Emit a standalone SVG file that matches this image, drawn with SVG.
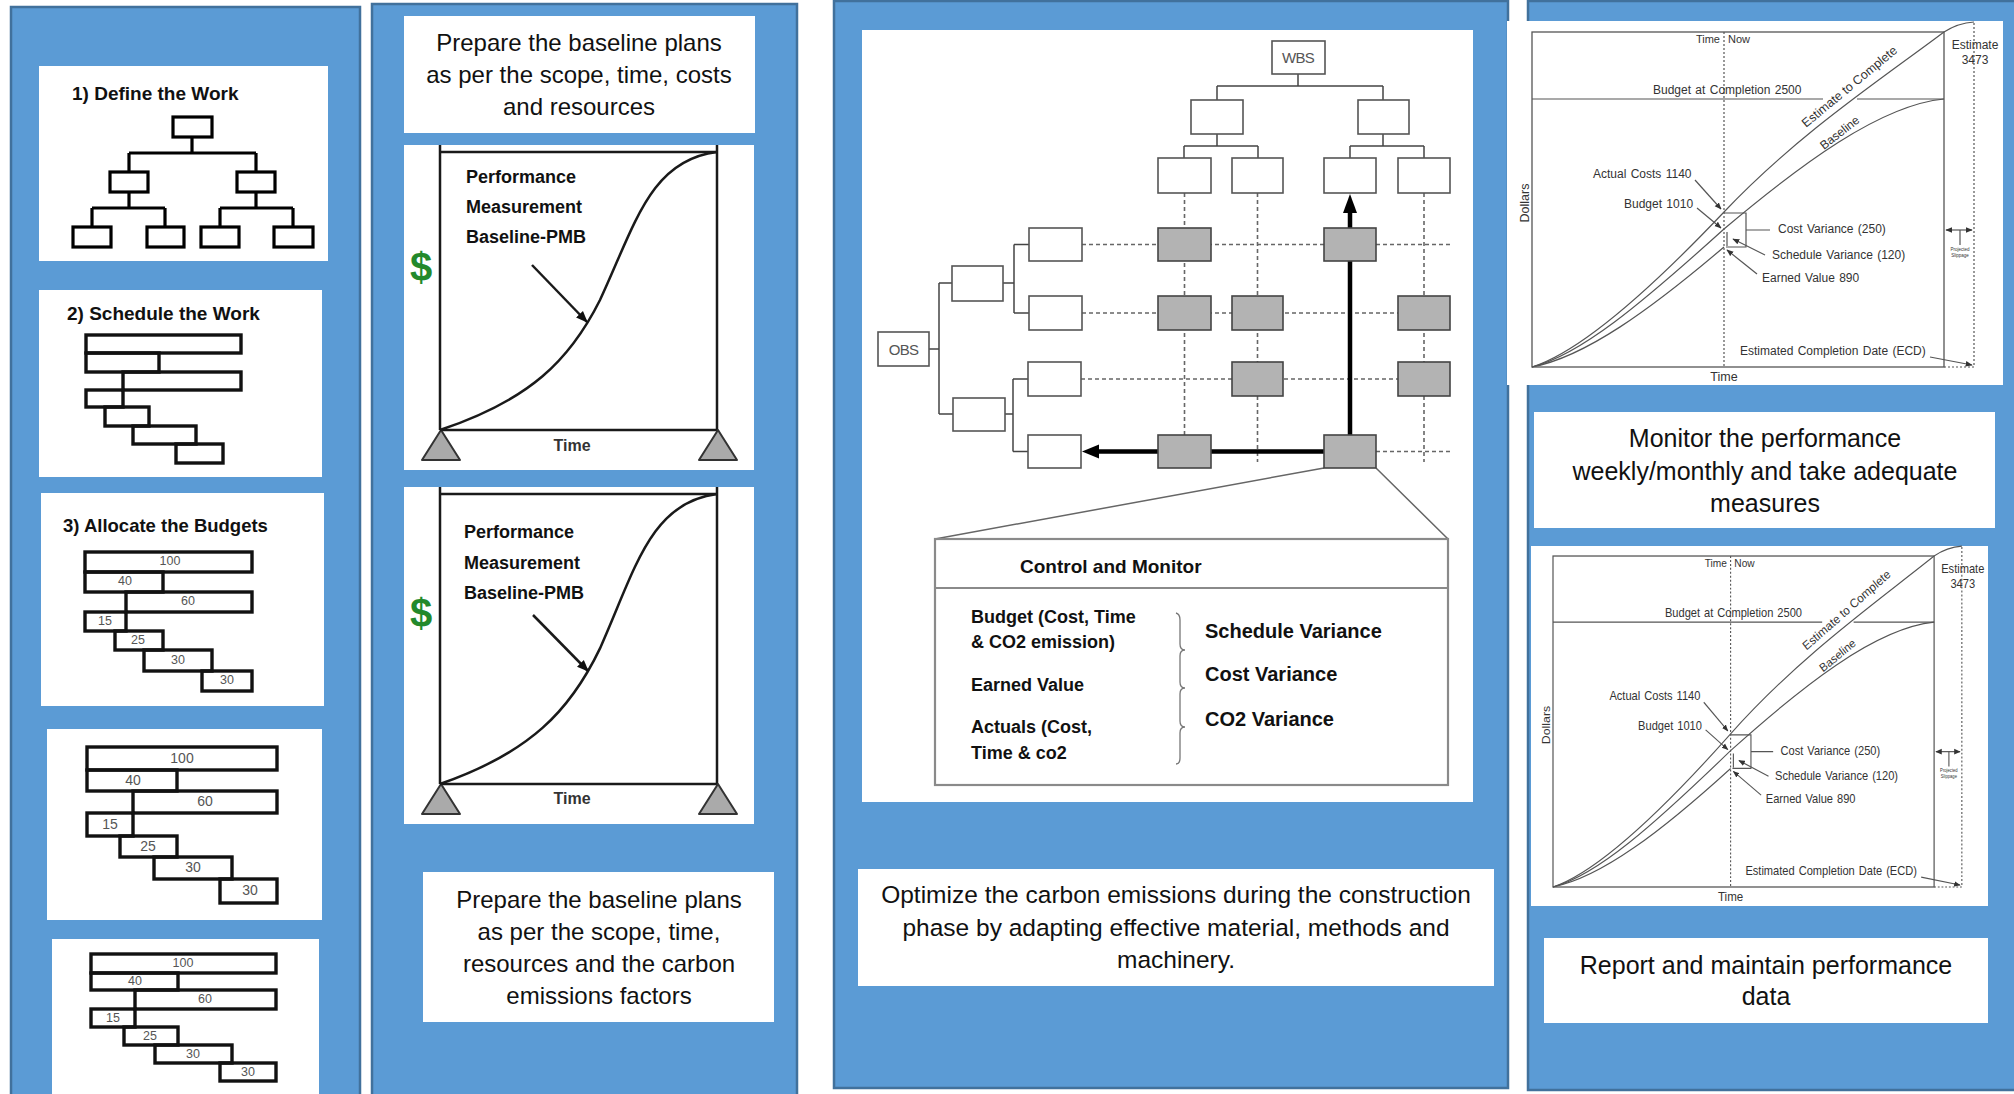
<svg xmlns="http://www.w3.org/2000/svg" width="2014" height="1094" viewBox="0 0 2014 1094">
<defs>
<style>
.panel{fill:#5b9bd5;stroke:#41719c;stroke-width:2.5}
.card{fill:#ffffff}
text{font-family:"Liberation Sans",Arial,sans-serif;fill:#111}
.cap{font-size:24px;text-anchor:middle}
.cap25{font-size:25px;text-anchor:middle}
.ttl{font-size:19px;font-weight:bold}
.tbox{fill:#fff;stroke:#000;stroke-width:3.2}
.lnk{fill:none;stroke:#000;stroke-width:3.2}
.bar{fill:none;stroke:#111;stroke-width:3.4}
.num{font-size:12.5px;fill:#555;text-anchor:middle}
.frame{fill:none;stroke:#1a1a1a;stroke-width:2.5}
.tri{fill:#aaaaaa;stroke:#333;stroke-width:2;stroke-linejoin:round}
.pmb{font-size:18px;font-weight:bold}
.dollar{font-size:40px;font-weight:bold;fill:#23892b;text-anchor:middle}
.axis{font-size:16px;font-weight:bold;fill:#333;text-anchor:middle}
.wbox{fill:#fff;stroke:#555;stroke-width:1.6}
.gbox{fill:#b3b3b3;stroke:#444;stroke-width:1.6}
.dash{fill:none;stroke:#666;stroke-width:1.6;stroke-dasharray:4 3}
.thin{fill:none;stroke:#444;stroke-width:1.5}
.thick{fill:none;stroke:#000;stroke-width:4.5}
.lbl{font-size:15px;fill:#555;text-anchor:middle;letter-spacing:-0.8px}
.cm{font-size:18px;font-weight:bold}
.cv{font-size:20px;font-weight:bold}
.ev{font-size:12px;fill:#333;word-spacing:1px}
.evl{fill:none;stroke:#555;stroke-width:1.2}
.evd{fill:none;stroke:#555;stroke-width:1.2;stroke-dasharray:2 2}
</style>
<marker id="ahPmb" viewBox="0 0 10 10" refX="9" refY="5" markerWidth="12" markerHeight="12" markerUnits="userSpaceOnUse" orient="auto">
<path d="M0,1 L10,5 L0,9 Z" fill="#111"/>
</marker>
<marker id="ahSm" viewBox="0 0 10 10" refX="9" refY="5" markerWidth="7" markerHeight="7" markerUnits="userSpaceOnUse" orient="auto-start-reverse">
<path d="M0,1 L10,5 L0,9 Z" fill="#333"/>
</marker>
</defs>

<rect width="2014" height="1094" fill="#ffffff"/>

<!-- column backgrounds -->
<g id="panels">
<rect class="panel" x="11" y="7" width="349" height="1100"/>
<rect class="panel" x="372" y="4" width="425" height="1100"/>
<rect class="panel" x="834" y="1" width="674" height="1087"/>
<rect class="panel" x="1528" y="1" width="490" height="1089"/>
</g>

<!-- step 1: work breakdown -->
<g id="define-work">
<rect class="card" x="39" y="66" width="289" height="195"/>
<text class="ttl" x="72" y="100">1) Define the Work</text>
<path class="lnk" d="M192,137 V153 M129,153 H256 M129,153 V172 M256,153 V172 M129,192 V208 M92,208 H165 M92,208 V227 M165,208 V227 M256,192 V208 M220,208 H293 M220,208 V227 M293,208 V227"/>
<rect class="tbox" x="173" y="117" width="39" height="20"/>
<rect class="tbox" x="110" y="172" width="38" height="20"/>
<rect class="tbox" x="237" y="172" width="38" height="20"/>
<rect class="tbox" x="73" y="227" width="38" height="20"/>
<rect class="tbox" x="147" y="227" width="37" height="20"/>
<rect class="tbox" x="201" y="227" width="38" height="20"/>
<rect class="tbox" x="274" y="227" width="39" height="20"/>
</g>

<!-- step 2: schedule -->
<g id="schedule-work">
<rect class="card" x="39" y="290" width="283" height="187"/>
<text class="ttl" x="67" y="320">2) Schedule the Work</text>
<rect class="bar" x="86" y="335" width="155" height="18"/>
<rect class="bar" x="86" y="353" width="73" height="19"/>
<rect class="bar" x="123" y="372" width="118" height="18"/>
<rect class="bar" x="86" y="390" width="37" height="17"/>
<rect class="bar" x="105" y="407" width="44" height="19"/>
<rect class="bar" x="133" y="426" width="63" height="18"/>
<rect class="bar" x="176" y="444" width="47" height="19"/>
</g>

<!-- step 3: budgets -->
<g id="allocate-budgets">
<rect class="card" x="41" y="493" width="283" height="213"/>
<text class="ttl" x="63" y="532" style="font-size:18.5px">3) Allocate the Budgets</text>
<rect class="bar" x="85" y="552" width="167" height="20"/>
<rect class="bar" x="85" y="572" width="78" height="20"/>
<rect class="bar" x="126" y="592" width="126" height="20"/>
<rect class="bar" x="85" y="612" width="41" height="19"/>
<rect class="bar" x="115" y="631" width="48" height="19"/>
<rect class="bar" x="144" y="650" width="68" height="21"/>
<rect class="bar" x="202" y="671" width="50" height="20"/>
<text class="num" x="170" y="565">100</text>
<text class="num" x="125" y="585">40</text>
<text class="num" x="188" y="605">60</text>
<text class="num" x="105" y="625">15</text>
<text class="num" x="138" y="644">25</text>
<text class="num" x="178" y="664">30</text>
<text class="num" x="227" y="684">30</text>
</g>

<g id="budget-copy-a">
<rect class="card" x="47" y="729" width="275" height="191"/>
<rect class="bar" x="87" y="747" width="190" height="23"/>
<rect class="bar" x="87" y="770" width="90" height="21"/>
<rect class="bar" x="133" y="791" width="144" height="22"/>
<rect class="bar" x="87" y="813" width="46" height="23"/>
<rect class="bar" x="120" y="836" width="57" height="21"/>
<rect class="bar" x="154" y="857" width="78" height="22"/>
<rect class="bar" x="220" y="879" width="57" height="24"/>
<text class="num" x="182" y="763" style="font-size:14px">100</text>
<text class="num" x="133" y="785" style="font-size:14px">40</text>
<text class="num" x="205" y="806" style="font-size:14px">60</text>
<text class="num" x="110" y="829" style="font-size:14px">15</text>
<text class="num" x="148" y="851" style="font-size:14px">25</text>
<text class="num" x="193" y="872" style="font-size:14px">30</text>
<text class="num" x="250" y="895" style="font-size:14px">30</text>
</g>

<g id="budget-copy-b">
<rect class="card" x="52" y="939" width="267" height="160"/>
<rect class="bar" x="91" y="954" width="185" height="19"/>
<rect class="bar" x="91" y="973" width="87" height="17"/>
<rect class="bar" x="135" y="990" width="141" height="19"/>
<rect class="bar" x="91" y="1009" width="44" height="18"/>
<rect class="bar" x="124" y="1027" width="54" height="18"/>
<rect class="bar" x="155" y="1045" width="77" height="18"/>
<rect class="bar" x="220" y="1063" width="56" height="18"/>
<text class="num" x="183" y="967">100</text>
<text class="num" x="135" y="985">40</text>
<text class="num" x="205" y="1003">60</text>
<text class="num" x="113" y="1022">15</text>
<text class="num" x="150" y="1040">25</text>
<text class="num" x="193" y="1058">30</text>
<text class="num" x="248" y="1076">30</text>
</g>

<!-- baseline plans column -->
<g id="baseline-text-1">
<rect class="card" x="404" y="16" width="351" height="117"/>
<text class="cap" x="579" y="51">Prepare the baseline plans</text>
<text class="cap" x="579" y="83">as per the scope, time, costs</text>
<text class="cap" x="579" y="115">and resources</text>
</g>

<g id="pmb-chart-1">
<rect class="card" x="404" y="145" width="350" height="325"/>
<path class="frame" d="M440,145 V430 M717,145 V430 M440,152 H717 M440,430 H717"/>
<path class="tri" d="M441,430 L422,460 L460,460 Z M718,430 L699,460 L737,460 Z"/>
<path class="frame" d="M440,430 C530,400 570,360 600,300 C635,225 650,160 717,152"/>
<text class="pmb" x="466" y="183">Performance</text>
<text class="pmb" x="466" y="213">Measurement</text>
<text class="pmb" x="466" y="243">Baseline-PMB</text>
<path class="frame" d="M532,265 L587,322" marker-end="url(#ahPmb)"/>
<text class="dollar" x="421" y="281">$</text>
<text class="axis" x="572" y="451">Time</text>
</g>

<g id="pmb-chart-2">
<rect class="card" x="404" y="487" width="350" height="337"/>
<path class="frame" d="M440,487 V784 M717,487 V784 M440,494 H717 M440,784 H717"/>
<path class="tri" d="M441,784 L422,814 L460,814 Z M718,784 L699,814 L737,814 Z"/>
<path class="frame" d="M440,784 C530,752.7 570,711 600,648.4 C635,570.2 650,502.3 717,494"/>
<text class="pmb" x="464" y="538">Performance</text>
<text class="pmb" x="464" y="569">Measurement</text>
<text class="pmb" x="464" y="599">Baseline-PMB</text>
<path class="frame" d="M533,615 L588,671" marker-end="url(#ahPmb)"/>
<text class="dollar" x="421" y="627">$</text>
<text class="axis" x="572" y="804">Time</text>
</g>

<g id="baseline-text-2">
<rect class="card" x="423" y="872" width="351" height="150"/>
<text class="cap" x="599" y="908">Prepare the baseline plans</text>
<text class="cap" x="599" y="940">as per the scope, time,</text>
<text class="cap" x="599" y="972">resources and the carbon</text>
<text class="cap" x="599" y="1004">emissions factors</text>
</g>

<!-- WBS / OBS responsibility matrix -->
<rect class="card" x="862" y="30" width="611" height="772"/>

<g id="matrix-connectors">
<path class="thin" d="M1298,74 V86 M1217,86 H1383 M1217,86 V100 M1383,86 V100 M1217,134 V146 M1184,146 H1258 M1184,146 V158 M1258,146 V158 M1383,134 V146 M1350,146 H1424 M1350,146 V158 M1424,146 V158"/>
<path class="thin" d="M929,349 H939 M939,283 V414 M939,283 H952 M939,414 H953 M1003,283 H1014 M1014,244.5 V313 M1014,244.5 H1029 M1014,313 H1029 M1005,414 H1013 M1013,379 V451.5 M1013,379 H1028 M1013,451.5 H1028"/>
<path class="dash" d="M1184.5,193 V435 M1257.5,193 V462 M1424,193 V462"/>
<path class="dash" d="M1082,244.5 H1453 M1082,313 H1398 M1081,379 H1398 M1376,451.5 H1453"/>
<path class="thick" d="M1350,435 V211"/>
<path d="M1350,194 L1357,213 L1343,213 Z" fill="#000"/>
<path class="thick" d="M1324,451.5 H1096"/>
<path d="M1082,451.5 L1099,444.5 L1099,458.5 Z" fill="#000"/>
<path class="thin" d="M1324,468 L935,539 M1376,468 L1448,539" style="stroke:#666"/>
</g>

<g id="wbs">
<rect class="wbox" x="1272" y="41" width="53" height="33"/>
<text class="lbl" x="1298" y="63">WBS</text>
</g>
<g id="wbs-level-2">
<rect class="wbox" x="1191" y="100" width="52" height="34"/>
<rect class="wbox" x="1358" y="100" width="51" height="34"/>
</g>
<g id="wbs-level-3">
<rect class="wbox" x="1158" y="158" width="53" height="35"/>
<rect class="wbox" x="1232" y="158" width="51" height="35"/>
<rect class="wbox" x="1324" y="158" width="52" height="35"/>
<rect class="wbox" x="1398" y="158" width="52" height="35"/>
</g>
<g id="obs">
<rect class="wbox" x="878" y="332" width="51" height="34"/>
<text class="lbl" x="903.5" y="355">OBS</text>
</g>
<g id="obs-level-2">
<rect class="wbox" x="952" y="266" width="51" height="35"/>
<rect class="wbox" x="953" y="398" width="52" height="33"/>
</g>
<g id="obs-level-3">
<rect class="wbox" x="1029" y="228" width="53" height="33"/>
<rect class="wbox" x="1029" y="296" width="53" height="34"/>
<rect class="wbox" x="1028" y="362" width="53" height="34"/>
<rect class="wbox" x="1028" y="435" width="53" height="33"/>
</g>
<g id="control-accounts">
<rect class="gbox" x="1158" y="228" width="53" height="33"/>
<rect class="gbox" x="1324" y="228" width="52" height="33"/>
<rect class="gbox" x="1158" y="296" width="53" height="34"/>
<rect class="gbox" x="1232" y="296" width="51" height="34"/>
<rect class="gbox" x="1398" y="296" width="52" height="34"/>
<rect class="gbox" x="1232" y="362" width="51" height="34"/>
<rect class="gbox" x="1398" y="362" width="52" height="34"/>
<rect class="gbox" x="1158" y="435" width="53" height="33"/>
<rect class="gbox" x="1324" y="435" width="52" height="33"/>
</g>

<g id="control-monitor">
<rect x="935" y="539" width="513" height="246" fill="#fff" stroke="#8a8a8a" stroke-width="2.2"/>
<path d="M935,588 H1448" stroke="#8a8a8a" stroke-width="2.2"/>
<text class="cm" x="1020" y="573" style="font-size:19px">Control and Monitor</text>
<text class="cm" x="971" y="623">Budget (Cost, Time</text>
<text class="cm" x="971" y="648">&amp; CO2 emission)</text>
<text class="cm" x="971" y="691">Earned Value</text>
<text class="cm" x="971" y="733">Actuals (Cost,</text>
<text class="cm" x="971" y="759">Time &amp; co2</text>
<path class="thin" style="stroke:#777;stroke-width:1.3" d="M1176,613 Q1180,614 1180,620 V644 Q1180,650 1185,650 Q1180,650 1180,656 V682 Q1180,688 1185,688 Q1180,688 1180,694 V721 Q1180,727 1185,727 Q1180,727 1180,733 V758 Q1180,764 1176,764"/>
<text class="cv" x="1205" y="638">Schedule Variance</text>
<text class="cv" x="1205" y="681">Cost Variance</text>
<text class="cv" x="1205" y="726">CO2 Variance</text>
</g>

<g id="optimize-text">
<rect class="card" x="858" y="869" width="636" height="117"/>
<text class="cap" x="1176" y="903" style="font-size:24.5px">Optimize the carbon emissions during the construction</text>
<text class="cap" x="1176" y="936" style="font-size:24.5px">phase by adapting effective material, methods and</text>
<text class="cap" x="1176" y="968" style="font-size:24.5px">machinery.</text>
</g>

<!-- earned value charts -->
<g id="evm-chart-1">
<rect class="card" x="1507" y="21" width="496" height="364"/>
<g id="evm-plot">
<rect x="1532" y="32" width="412" height="335" fill="none" stroke="#555" stroke-width="1.3"/>
<path class="evl" d="M1532,99 H1823 M1857,99 H1944"/>
<path class="evd" d="M1724,32 V367 M1974,23 V367 M1944,367 H1974"/>
<path class="evl" d="M1532,367 C1580,352 1650,290 1724,212 S1880,80 1944,32 Q1958,23 1974,22"/>
<path class="evl" d="M1532,367 C1580,355 1640,305 1724,229 C1800,165 1880,105 1944,99"/>
<path class="evl" d="M1532,367 C1585,357 1650,310 1724,247"/>
<text class="ev" x="1720" y="43" text-anchor="end" style="font-size:11px">Time</text>
<text class="ev" x="1728" y="43" style="font-size:11px">Now</text>
<text class="ev" x="1653" y="94">Budget at Completion 2500</text>
<text class="ev" x="1975" y="49" text-anchor="middle">Estimate</text>
<text class="ev" x="1975" y="64" text-anchor="middle">3473</text>
<text class="ev" transform="translate(1529,203) rotate(-90)" text-anchor="middle" style="font-size:12.5px">Dollars</text>
<text class="ev" x="1724" y="381" text-anchor="middle" style="font-size:12.5px">Time</text>
<text class="ev" transform="translate(1806,128) rotate(-39.6)" style="font-size:12.5px;word-spacing:0">Estimate to Complete</text>
<text class="ev" transform="translate(1824,150) rotate(-38)" style="font-size:12px">Baseline</text>
<text class="ev" x="1593" y="178">Actual Costs 1140</text>
<text class="ev" x="1624" y="208">Budget 1010</text>
<text class="ev" x="1778" y="233">Cost Variance (250)</text>
<text class="ev" x="1772" y="259">Schedule Variance (120)</text>
<text class="ev" x="1762" y="282">Earned Value 890</text>
<text class="ev" x="1740" y="355">Estimated Completion Date (ECD)</text>
<text class="ev" x="1960" y="251" text-anchor="middle" style="font-size:4.5px">Projected</text>
<text class="ev" x="1960" y="257" text-anchor="middle" style="font-size:4.5px">Slippage</text>
<path class="evl" d="M1695,180 L1721,209" marker-end="url(#ahSm)"/>
<path class="evl" d="M1697,208 L1721,228" marker-end="url(#ahSm)"/>
<path class="evl" d="M1765,255 L1733,239" marker-end="url(#ahSm)"/>
<path class="evl" d="M1757,274 L1727,250" marker-end="url(#ahSm)"/>
<path class="evl" d="M1930,357 L1972,365" marker-end="url(#ahSm)"/>
<path class="evl" d="M1946,230 H1972" marker-start="url(#ahSm)" marker-end="url(#ahSm)"/>
<path class="evl" d="M1960,230 V245 M1724,213 H1746 V247 H1726 M1746,230 H1770 M1727,232 V246"/>
</g>
</g>

<g id="monitor-text">
<rect class="card" x="1534" y="412" width="461" height="116"/>
<text class="cap25" x="1765" y="447">Monitor the performance</text>
<text class="cap25" x="1765" y="480">weekly/monthly and take adequate</text>
<text class="cap25" x="1765" y="512">measures</text>
</g>

<g id="evm-chart-2">
<rect class="card" x="1531" y="546" width="457" height="360"/>
<g transform="matrix(0.925 0 0 0.988 135.9 524.4)">
<rect x="1532" y="32" width="412" height="335" fill="none" stroke="#555" stroke-width="1.3"/>
<path class="evl" d="M1532,99 H1823 M1857,99 H1944"/>
<path class="evd" d="M1724,32 V367 M1974,23 V367 M1944,367 H1974"/>
<path class="evl" d="M1532,367 C1580,352 1650,290 1724,212 S1880,80 1944,32 Q1958,23 1974,22"/>
<path class="evl" d="M1532,367 C1580,355 1640,305 1724,229 C1800,165 1880,105 1944,99"/>
<path class="evl" d="M1532,367 C1585,357 1650,310 1724,247"/>
<text class="ev" x="1720" y="43" text-anchor="end" style="font-size:11px">Time</text>
<text class="ev" x="1728" y="43" style="font-size:11px">Now</text>
<text class="ev" x="1653" y="94">Budget at Completion 2500</text>
<text class="ev" x="1975" y="49" text-anchor="middle">Estimate</text>
<text class="ev" x="1975" y="64" text-anchor="middle">3473</text>
<text class="ev" transform="translate(1529,203) rotate(-90)" text-anchor="middle" style="font-size:12.5px">Dollars</text>
<text class="ev" x="1724" y="381" text-anchor="middle" style="font-size:12.5px">Time</text>
<text class="ev" transform="translate(1806,128) rotate(-39.6)" style="font-size:12.5px;word-spacing:0">Estimate to Complete</text>
<text class="ev" transform="translate(1824,150) rotate(-38)" style="font-size:12px">Baseline</text>
<text class="ev" x="1593" y="178">Actual Costs 1140</text>
<text class="ev" x="1624" y="208">Budget 1010</text>
<text class="ev" x="1778" y="233">Cost Variance (250)</text>
<text class="ev" x="1772" y="259">Schedule Variance (120)</text>
<text class="ev" x="1762" y="282">Earned Value 890</text>
<text class="ev" x="1740" y="355">Estimated Completion Date (ECD)</text>
<text class="ev" x="1960" y="251" text-anchor="middle" style="font-size:4.5px">Projected</text>
<text class="ev" x="1960" y="257" text-anchor="middle" style="font-size:4.5px">Slippage</text>
<path class="evl" d="M1695,180 L1721,209" marker-end="url(#ahSm)"/>
<path class="evl" d="M1697,208 L1721,228" marker-end="url(#ahSm)"/>
<path class="evl" d="M1765,255 L1733,239" marker-end="url(#ahSm)"/>
<path class="evl" d="M1757,274 L1727,250" marker-end="url(#ahSm)"/>
<path class="evl" d="M1930,357 L1972,365" marker-end="url(#ahSm)"/>
<path class="evl" d="M1946,230 H1972" marker-start="url(#ahSm)" marker-end="url(#ahSm)"/>
<path class="evl" d="M1960,230 V245 M1724,213 H1746 V247 H1726 M1746,230 H1770 M1727,232 V246"/>
</g>
</g>

<g id="report-text">
<rect class="card" x="1544" y="938" width="444" height="85"/>
<text class="cap25" x="1766" y="974">Report and maintain performance</text>
<text class="cap25" x="1766" y="1005">data</text>
</g>
</svg>
